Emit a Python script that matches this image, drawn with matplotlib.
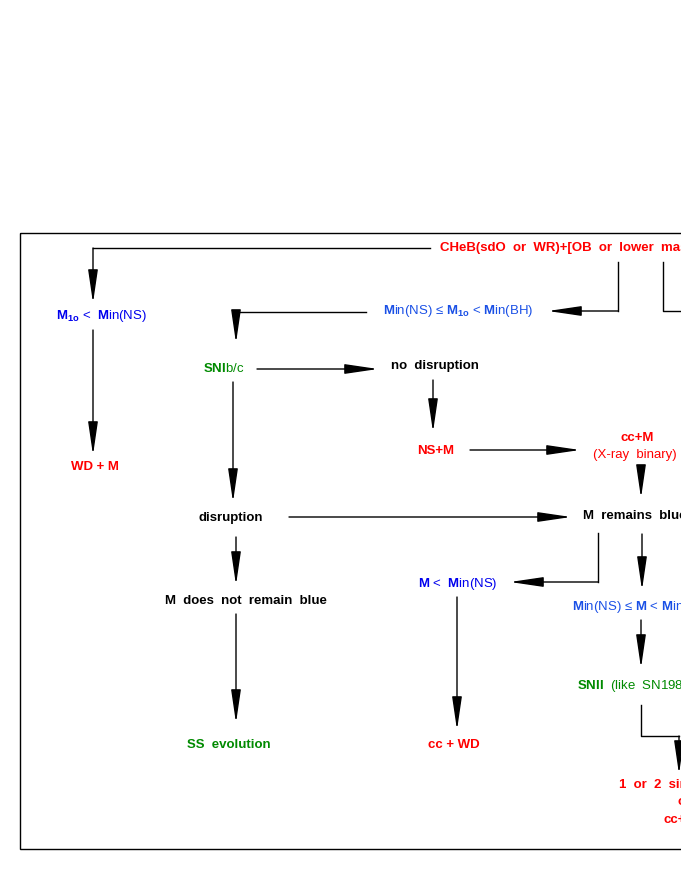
import matplotlib
matplotlib.use("Agg")
import matplotlib.pyplot as plt
from matplotlib.patches import Rectangle

plt.rcParams['font.family'] = 'Liberation Sans'
plt.rcParams['mathtext.fontset'] = 'custom'
plt.rcParams['mathtext.rm'] = 'Liberation Sans'
plt.rcParams['mathtext.bf'] = 'Liberation Sans:bold'
plt.rcParams['mathtext.it'] = 'Liberation Sans:italic'

RED, BLUE, LBLUE, GREEN, BLACK = '#ff0000', '#0000ee', '#1a50e6', '#008a00', '#000000'

# nodes: (text, x, y, ha, color, bold)
node_text = [
    "CHeB(sdO  or  WR)+[OB  or  lower  mass  MS]",
    r"$\mathbf{M_{1o}}$ <  $\mathbf{M}$in(NS)",
    "WD + M",
    r"$\mathbf{M}$in(NS) ≤ $\mathbf{M_{1o}}$ < $\mathbf{M}$in(BH)",
    r"$\mathbf{SNI}$b/c",
    "no  disruption",
    "NS+M",
    "cc+M",
    "(X-ray  binary)",
    "disruption",
    "M  remains  blue",
    "M  does  not  remain  blue",
    r"$\mathbf{M}$ <  $\mathbf{M}$in(NS)",
    r"$\mathbf{M}$in(NS) ≤ $\mathbf{M}$ < $\mathbf{M}$in(BH)",
    "SS  evolution",
    "cc + WD",
    r"$\mathbf{SNII}$  (like  SN1987A)",
    "1  or  2  single  pulsars",
    "or",
    "cc+cc",
]
node_x = [440, 101, 95, 458, 224, 391, 436, 637, 635, 231, 583, 246, 458, 572, 229, 454, 577, 619, 677, 663]
node_y = [248, 316, 467, 311, 368, 366, 451, 438, 455, 518, 516, 601, 584, 607, 745, 745, 686, 785, 802, 820]
node_ha = ['left', 'center', 'center', 'center', 'center', 'left', 'center', 'center', 'center', 'center',
           'left', 'center', 'center', 'left', 'center', 'center', 'left', 'left', 'left', 'left']
node_color = [RED, BLUE, RED, LBLUE, GREEN, BLACK, RED, RED, RED, BLACK,
              BLACK, BLACK, BLUE, LBLUE, GREEN, RED, GREEN, RED, RED, RED]
node_bold = [True, False, True, False, False, True, True, True, False, True,
             True, True, False, False, True, True, False, True, True, True]

paths = [
    ([430, 93, 93], [248, 248, 303], True),
    ([93, 93], [330, 455], True),
    ([618, 618, 548], [262, 311, 311], True),
    ([663, 663, 690], [262, 311, 311], False),
    ([366, 236, 236], [312, 312, 343], True),
    ([257, 378], [369, 369], True),
    ([433, 433], [380, 432], True),
    ([470, 580], [450, 450], True),
    ([641, 641], [470, 498], True),
    ([233, 233], [382, 502], True),
    ([289, 571], [517, 517], True),
    ([236, 236], [537, 585], True),
    ([236, 236], [614, 723], True),
    ([598, 598, 510], [533, 582, 582], True),
    ([457, 457], [597, 730], True),
    ([642, 642], [534, 590], True),
    ([641, 641], [620, 668], True),
    ([641, 641, 679, 679], [705, 736, 736, 774], True),
]

fig = plt.figure(figsize=(6.81, 8.81), dpi=100)
ax = fig.add_axes([0, 0, 1, 1])
ax.set_xlim(0, 681)
ax.set_ylim(881, 0)
ax.axis('off')

ax.add_patch(Rectangle((20, 233), 700, 616, fill=False, lw=1.0, ec='black', clip_on=True))

for xs, ys, arr in paths:
    if arr:
        ax.plot(xs[:-1], ys[:-1], color='black', lw=1.0)
        ax.annotate('', xy=(xs[-1], ys[-1]), xytext=(xs[-2], ys[-2]),
                    arrowprops=dict(arrowstyle='-|>,head_length=1.7,head_width=0.25',
                                    lw=1.0, color='black', shrinkA=0, shrinkB=0,
                                    mutation_scale=12))
    else:
        ax.plot(xs, ys, color='black', lw=1.0)

for t, x, y, ha, c, b in zip(node_text, node_x, node_y, node_ha, node_color, node_bold):
    ax.text(x, y, t, ha=ha, va='center', color=c, fontsize=9.5,
            fontweight='bold' if b else 'normal')

fig.savefig('out.png', dpi=100)
